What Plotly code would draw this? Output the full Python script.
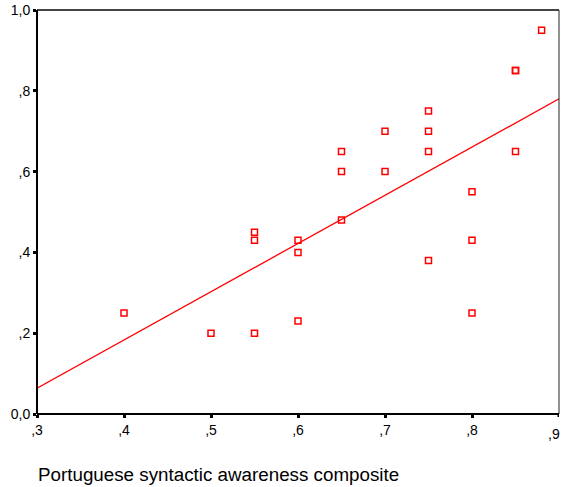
import plotly.graph_objects as go

# Data
x_vals = [0.40, 0.50, 0.55, 0.55, 0.55, 0.60, 0.60, 0.60, 0.65, 0.65, 0.65,
          0.70, 0.70, 0.75, 0.75, 0.75, 0.75, 0.80, 0.80, 0.80, 0.85, 0.85, 0.85, 0.88]
y_vals = [0.25, 0.20, 0.20, 0.45, 0.43, 0.43, 0.40, 0.23, 0.65, 0.60, 0.48,
          0.70, 0.60, 0.75, 0.70, 0.65, 0.38, 0.55, 0.43, 0.25, 0.85, 0.85, 0.65, 0.95]
fit_x = [0.30, 0.90]
fit_y = [0.064, 0.78]

x_ticks = [0.3, 0.4, 0.5, 0.6, 0.7, 0.8, 0.9]
x_ticktext = [",3", ",4", ",5", ",6", ",7", ",8", ",9"]
y_ticks = [0.0, 0.2, 0.4, 0.6, 0.8, 1.0]
y_ticktext = ["0,0", ",2", ",4", ",6", ",8", "1,0"]

fig = go.Figure()
fig.add_trace(go.Scatter(x=fit_x, y=fit_y, mode="lines",
                         line=dict(color="#ff0000", width=1.3),
                         showlegend=False, hoverinfo="skip"))
fig.add_trace(go.Scatter(x=x_vals, y=y_vals, mode="markers",
                         marker=dict(symbol="square-open", size=6, color="#ff0000",
                                     line=dict(width=1.5, color="#ff0000")),
                         showlegend=False, cliponaxis=False))

font = dict(family="Liberation Sans, Arial, sans-serif", size=14, color="#000000")

# last x tick label placed as annotation, kept just inside the page's right edge
annotations = [
    dict(text="Portuguese syntactic awareness composite", xref="paper", yref="paper",
         x=-0.002, y=-0.149, xanchor="left", yanchor="middle", showarrow=False,
         font=dict(family="Liberation Sans, Arial, sans-serif", size=18.8, color="#000000")),
    dict(text=x_ticktext[-1], xref="paper", yref="paper", x=1.005, y=-0.05,
         xanchor="right", yanchor="middle", showarrow=False, font=font),
]

fig.update_layout(
    width=562, height=487,
    margin=dict(l=37, r=3, t=10, b=73),
    paper_bgcolor="white", plot_bgcolor="white",
    font=font,
    xaxis=dict(range=[0.3, 0.9], tickvals=x_ticks[:-1], ticktext=x_ticktext[:-1],
               showgrid=False, zeroline=False, showline=False,
               ticks="outside", ticklen=3, tickwidth=3, tickcolor="#000000",
               tickfont=font),
    yaxis=dict(range=[0, 1.0], tickvals=y_ticks, ticktext=y_ticktext,
               showgrid=False, zeroline=False, showline=False,
               ticks="outside", ticklen=3, tickwidth=3, tickcolor="#000000",
               tickfont=font),
    shapes=[
        dict(type="line", xref="paper", yref="paper", x0=0, x1=1, y0=1, y1=1,
             line=dict(color="#444444", width=2)),
        dict(type="line", xref="paper", yref="paper", x0=1, x1=1, y0=0, y1=1,
             line=dict(color="#222222", width=1)),
        dict(type="line", xref="paper", yref="paper", x0=0, x1=1, y0=0, y1=0,
             line=dict(color="#000000", width=2)),
        dict(type="line", xref="paper", yref="paper", x0=0, x1=0, y0=0, y1=1,
             line=dict(color="#000000", width=2)),
        dict(type="line", xref="x", yref="paper", x0=x_ticks[-1], x1=x_ticks[-1],
             y0=0, y1=-0.0075, line=dict(color="#000000", width=3)),
    ],
    annotations=annotations,
)

fig.write_html("out.html")
